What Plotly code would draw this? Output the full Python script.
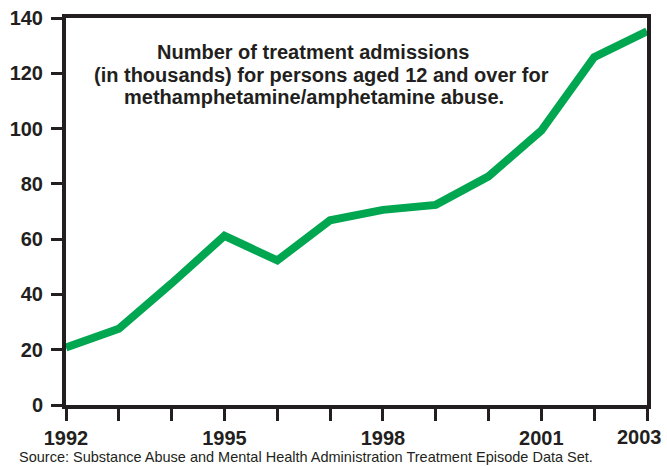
import plotly.graph_objects as go

years = [1992, 1993, 1994, 1995, 1996, 1997, 1998, 1999, 2000, 2001, 2002, 2003]
admissions = [20.8, 27.6, 44, 61.2, 52.3, 66.8, 70.6, 72.4, 82.7, 99.3, 125.8, 135.2]
x_tick_vals = years
x_tick_text = ["1992", "", "", "1995", "", "", "1998", "", "", "2001", "", ""]
last_year_label = "2003"
y_tick_vals = [0, 20, 40, 60, 80, 100, 120, 140]

title_lines = ["Number of treatment admissions",
               "(in thousands) for persons aged 12 and over for",
               "methamphetamine/amphetamine abuse."]
source_text = "Source: Substance Abuse and Mental Health Administration Treatment Episode Data Set."

ink = "#231f20"
tick_font = dict(size=20, color=ink, family="Liberation Sans, Arial, sans-serif", weight="bold")

fig = go.Figure()
fig.add_trace(go.Scatter(x=years, y=admissions, mode="lines",
                         line=dict(color="#00a650", width=8), hoverinfo="skip"))

PL, PR, PT, PB = 66, 647, 17.5, 405
pw, ph = PR - PL, PB - PT

annotations = []
title_pos_px = [(312.5, 52), (321.5, 74.5), (313.5, 97)]
for line, (xpx, ypx) in zip(title_lines, title_pos_px):
    annotations.append(dict(text="<b>" + line + "</b>", xref="paper", yref="paper",
                            x=(xpx - PL) / pw, y=(PB - ypx) / ph,
                            xanchor="center", yanchor="middle", showarrow=False,
                            font=dict(size=20, color=ink)))
annotations.append(dict(text=source_text, xref="paper", yref="paper", x=(17 - PL) / pw,
                        y=(PB - 457) / ph, xanchor="left", yanchor="middle",
                        showarrow=False, align="left", font=dict(size=14.5, color=ink)))
# last tick label, kept inside the page as in the reference
annotations.append(dict(text=last_year_label, xref="x", yref="paper", x=years[-1],
                        y=(PB - 437) / ph, xanchor="right", yanchor="middle", xshift=17,
                        showarrow=False, font=tick_font))

fig.update_layout(
    width=667, height=466,
    margin=dict(l=PL, r=667 - PR, t=PT, b=466 - PB, autoexpand=False),
    paper_bgcolor="white", plot_bgcolor="white",
    showlegend=False,
    font=dict(family="Liberation Sans, Arial, sans-serif", color=ink),
    xaxis=dict(range=[1992, 2003], tickvals=x_tick_vals, ticktext=x_tick_text,
               automargin=False,
               showgrid=False, zeroline=False, showline=True, linecolor=ink, linewidth=4,
               mirror=True, ticks="outside", ticklen=12, tickwidth=3, tickcolor=ink,
               ticklabeloverflow="allow", tickfont=tick_font),
    yaxis=dict(range=[0, 140], tickvals=y_tick_vals, automargin=False,
               showgrid=False, zeroline=False, showline=True, linecolor=ink, linewidth=4,
               mirror=True, ticks="outside", ticklen=11, tickwidth=3, tickcolor=ink,
               ticklabelstandoff=4, tickfont=tick_font),
    annotations=annotations,
)

fig.write_html("out.html", config={"displayModeBar": False},
               post_script="document.body.style.margin='0';document.body.style.overflow='hidden';")
